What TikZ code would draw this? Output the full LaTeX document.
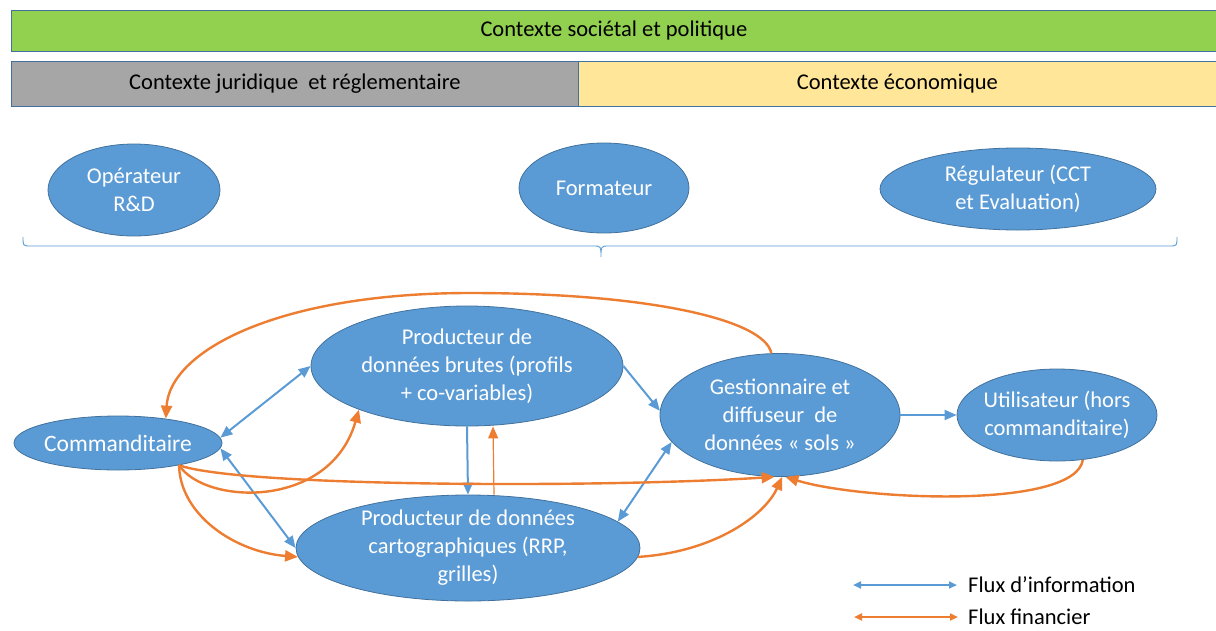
\documentclass[tikz,border=0pt]{standalone}
\usepackage{fontspec}
\setmainfont{Carlito}
\usetikzlibrary{shapes.geometric,arrows.meta}
\definecolor{nodeblue}{HTML}{5B9BD5}
\definecolor{nodeedge}{HTML}{41719C}
\definecolor{flowor}{HTML}{ED7D31}
\definecolor{barGreen}{HTML}{92D050}
\definecolor{barGray}{HTML}{A6A6A6}
\definecolor{barYellow}{HTML}{FFE699}
\begin{document}
\begin{tikzpicture}[x=1pt,y=-1pt,
  txt/.style={font=\fontsize{22.5}{28}\selectfont},
  actor/.style={ellipse, fill=nodeblue, draw=nodeedge, line width=0.8pt, text=white,
    align=center, inner xsep=-60pt, inner ysep=-40pt, txt},
  bar/.style={draw=nodeedge, line width=0.8pt, anchor=north west, inner sep=0pt, txt, text=black},
  info/.style={draw=nodeblue, line width=2pt, -{Triangle[length=12pt,width=10pt]}},
  infoboth/.style={info, {Triangle[length=12pt,width=10pt]}-{Triangle[length=12pt,width=10pt]}},
  fin/.style={draw=flowor, line width=2.4pt, -{Triangle[length=13pt,width=11pt]}},
  finthin/.style={draw=flowor, line width=1.2pt, -{Triangle[length=12pt,width=10pt]}},
  legendinfo/.style={draw=nodeblue, line width=2pt, {Triangle[length=8pt,width=7pt]}-{Triangle[length=8pt,width=7pt]}},
  legendfin/.style={draw=flowor, line width=2.4pt, {Triangle[length=8pt,width=7pt]}-{Triangle[length=8pt,width=7pt]}},
  bracestyle/.style={draw=nodeblue, line width=0.9pt}
]
\useasboundingbox (0,0) rectangle (1216,630);

% context bars
\node[bar, fill=barGreen, minimum width=1205pt, minimum height=41pt] (soc) at (11,10) {Contexte sociétal et politique};
\node[bar, fill=barGray, minimum width=567pt, minimum height=45pt] (jur) at (11,61) {Contexte juridique\ \ et réglementaire};
\node[bar, fill=barYellow, minimum width=638pt, minimum height=45pt] (eco) at (578,61) {Contexte économique};

% upper actors
\node[actor, minimum width=172pt, minimum height=92pt] (oper) at (134,190) {Opérateur\\R\&D};
\node[actor, minimum width=170pt, minimum height=90pt] (form) at (604,188) {Formateur};
\node[actor, minimum width=276pt, minimum height=82pt] (regu) at (1018,189) {Régulateur (CCT\\et Evaluation)};

% brace
\draw[bracestyle] (23,237) .. controls (23,246) .. (31,246) -- (593,246)
  .. controls (601,246) .. (601,257) .. controls (601,246) .. (609,246) -- (1169,246)
  .. controls (1177,246) .. (1177,237);

% main actors
\node[actor, minimum width=208pt, minimum height=54pt, font=\fontsize{23.5}{28}\selectfont] (cmd) at (118,443) {Commanditaire};
\node[actor, minimum width=312pt, minimum height=120pt] (brutes) at (467,366) {Producteur de\\données brutes (profils\\+ co-variables)};
\node[actor, minimum width=344pt, minimum height=106pt] (carto) at (468,548) {Producteur de données\\cartographiques (RRP,\\grilles)};
\node[actor, minimum width=240pt, minimum height=123pt] (gest) at (780,415) {Gestionnaire et\\diffuseur\ \ de\\données « sols »};
\node[actor, minimum width=200pt, minimum height=92pt] (util) at (1057,415) {Utilisateur (hors\\commanditaire)};

% information flows
\draw[infoboth] (cmd.3) -- (brutes.180);
\draw[infoboth] (cmd.-3) -- (carto.180);
\draw[info] (brutes.south) -- (carto.north);
\draw[info] (brutes.east) -- (gest.178);
\draw[infoboth] (gest.194) -- (carto.10);
\draw[info] (gest.east) -- (util.west);

% financial flows
\draw[fin] (gest.98) .. controls (765,320) and (650,293) .. (470,293)
  .. controls (280,293) and (170,350) .. (cmd.27);
\draw[fin] (cmd.-20) .. controls (205,505) and (330,510) .. (brutes.202);
\draw[fin] (cmd.-20) .. controls (240,487) and (600,488) .. (gest.-95);
\draw[fin] (cmd.-20) .. controls (180,515) and (235,552) .. (carto.183);
\draw[finthin] ([xshift=26pt]carto.north) -- ([xshift=26pt]brutes.south);
\draw[fin] (carto.-3) .. controls (715,552) and (765,515) .. (gest.-88);
\draw[fin] (util.-60) .. controls (1075,510) and (860,500) .. (gest.-85);

% legend
\coordinate (li1) at (853,585);
\coordinate (li2) at (957,585);
\coordinate (lf1) at (854,617);
\coordinate (lf2) at (958,617);
\draw[legendinfo] (li1) -- (li2);
\draw[legendfin] (lf1) -- (lf2);
\node[txt, anchor=west, inner sep=0pt] (lti) at (968,585) {Flux d’information};
\node[txt, anchor=west, inner sep=0pt] (ltf) at (968,617) {Flux financier};
\end{tikzpicture}
\end{document}
